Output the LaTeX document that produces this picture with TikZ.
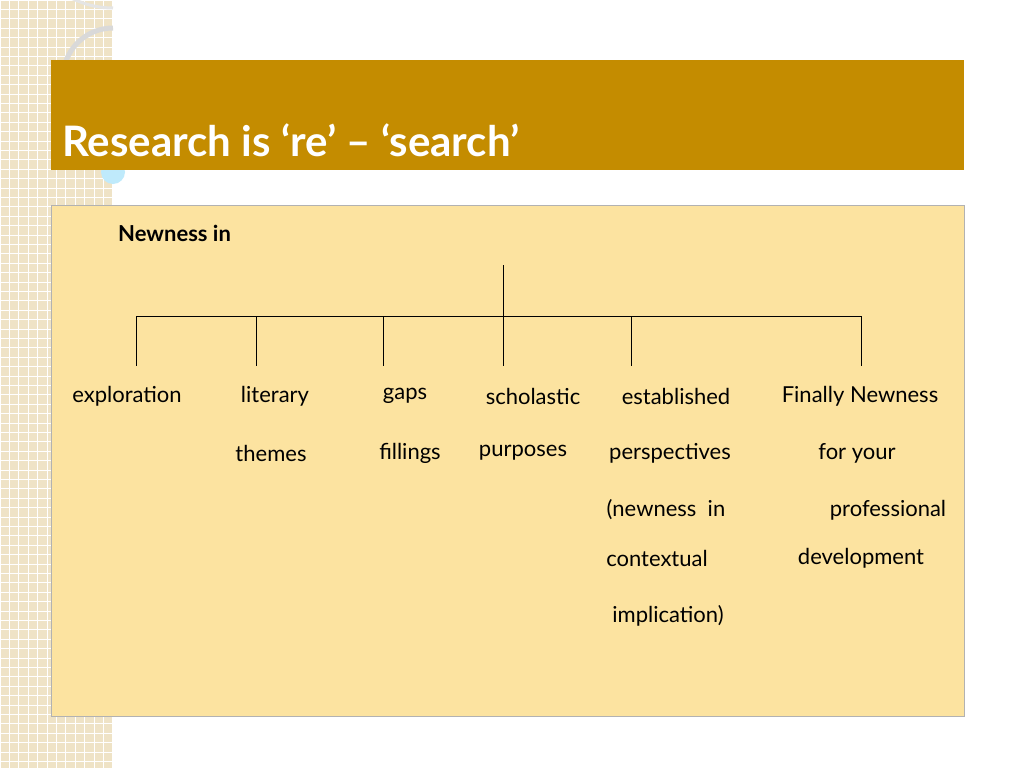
\documentclass[tikz,border=0pt]{standalone}
\usepackage{fontspec}
\setmainfont{Lato}
\begin{document}
\begin{tikzpicture}[x=1pt,y=-1pt,
  lbl/.style={font=\fontsize{22}{24}\selectfont, text=black, inner sep=0pt},
  tline/.style={draw=black, line width=0.8pt}]
\definecolor{gold}{HTML}{C48C00}
\definecolor{pale}{HTML}{FCE3A0}
\definecolor{beige}{HTML}{EFE3C6}
\useasboundingbox (0,0) rectangle (1024,768);
\fill[white] (0,0) rectangle (1024,768);
% left strip with grid
\fill[beige] (0,0) rectangle (113,768);
\foreach \i in {0,...,12}{\draw[white,line width=0.8pt] (\i*9.4,0) -- (\i*9.4,768);}
\foreach \j in {0,...,82}{\draw[white,line width=0.8pt] (0,\j*9.4) -- (113,\j*9.4);}
% decorative arcs
\draw[white!80!gray, line width=3pt] (113,8) arc[start angle=90,end angle=270,radius=92];
\draw[gray!30, line width=5pt] (113,128) arc[start angle=90,end angle=270,radius=50];
\fill[cyan!25] (113,172) circle (12);
% title band
\fill[gold] (51,60) rectangle (964,170);
\node[anchor=west, text=white, font=\bfseries\fontsize{42}{44}\selectfont, inner sep=0pt] (title) at (62,140) {Research is ‘re’ – ‘search’};
% content box
\filldraw[fill=pale, draw=gray!60] (51,205) rectangle (964,716);
\node[lbl, font=\bfseries\fontsize{22}{24}\selectfont, anchor=west] (nw) at (118,233) {Newness in};
% tree
\coordinate (top) at (503,265);
\coordinate (mid) at (503,316);
\coordinate (hl) at (136,316);
\coordinate (hr) at (861,316);
\draw[tline] (top) -- (mid);
\draw[tline] (hl) -- (hr);
\foreach \x/\n in {136/a,256/b,383/c,503/d,631/e,861/f}{
  \coordinate (u\n) at (\x,316); \coordinate (d\n) at (\x,366);
  \draw[tline] (u\n) -- (d\n);}
% labels
\node[lbl] (l1) at (127,396) {exploration};
\node[lbl] (l2) at (275,396) {literary};
\node[lbl] (l3) at (405,396) {gaps};
\node[lbl] (l4) at (533,396) {scholastic};
\node[lbl] (l5) at (676,396) {established};
\node[lbl] (l6) at (860,396) {Finally Newness};
\node[lbl] (m2) at (271,453) {themes};
\node[lbl] (m3) at (410,453) {fillings};
\node[lbl] (m4) at (523,453) {purposes};
\node[lbl] (m5) at (670,453) {perspectives};
\node[lbl] (m6) at (857,453) {for your};
\node[lbl] (n5) at (666,510) {(newness\ \ in};
\node[lbl] (n6) at (888,510) {professional};
\node[lbl] (o5) at (657,558) {contextual};
\node[lbl] (o6) at (861,558) {development};
\node[lbl] (p5) at (668,616) {implication)};
\end{tikzpicture}
\end{document}
